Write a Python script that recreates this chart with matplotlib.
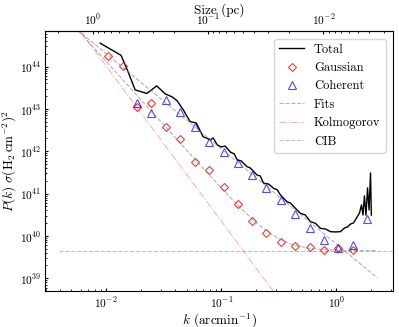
import numpy as np
import matplotlib
matplotlib.use("Agg")
import matplotlib.pyplot as plt

plt.rcParams['font.family'] = 'serif'
plt.rcParams['font.serif'] = ['cmr10']
plt.rcParams['mathtext.fontset'] = 'cm'
plt.rcParams['axes.formatter.use_mathtext'] = True
plt.rcParams['font.size'] = 9.5
plt.rcParams['xtick.labelsize'] = 8.2
plt.rcParams['ytick.labelsize'] = 8.2
plt.rcParams['legend.fontsize'] = 9
plt.rcParams['xtick.direction'] = 'in'
plt.rcParams['ytick.direction'] = 'in'
plt.rcParams['xtick.major.size'] = 2.5
plt.rcParams['ytick.major.size'] = 2.5
plt.rcParams['xtick.minor.size'] = 1.5
plt.rcParams['ytick.minor.size'] = 1.5
plt.rcParams['xtick.major.pad'] = 3
plt.rcParams['ytick.major.pad'] = 2.5

# total power spectrum
k_total = [0.00887, 0.01349, 0.01552, 0.01786, 0.0226, 0.0275, 0.0326, 0.0375, 0.0414,
           0.0468, 0.0506, 0.0537, 0.0606, 0.0656, 0.0697, 0.0755, 0.0802, 0.0851, 0.0922,
           0.100, 0.108, 0.1197, 0.1297, 0.1377, 0.149, 0.167, 0.1786, 0.204, 0.218, 0.233,
           0.256, 0.285, 0.307, 0.326, 0.372, 0.398, 0.440, 0.486, 0.537, 0.594, 0.656,
           0.726, 0.802, 0.887, 0.980, 1.083, 1.175, 1.247, 1.325, 1.406, 1.493, 1.585,
           1.65, 1.70, 1.75, 1.805, 1.862, 1.92, 1.977, 2.01]
p_total = [3.57e44, 1.84e44, 7.5e43, 2.81e43, 2.32e43, 3.50e43, 2.26e43, 1.92e43, 1.55e43,
           9.5e42, 6.5e42, 5.0e42, 4.67e42, 3.02e42, 2.18e42, 2.01e42, 1.85e42, 2.06e42, 1.41e42,
           1.26e42, 1.33e42, 9.6e41, 8.6e41, 6.2e41, 5.9e41, 4.33e41, 4.03e41, 2.75e41, 2.61e41,
           1.75e41, 1.69e41, 1.33e41, 1.22e41, 9.3e40, 6.4e40, 6.0e40, 4.5e40, 3.42e40, 3.12e40,
           2.17e40, 1.99e40, 1.51e40, 1.46e40, 1.26e40, 1.24e40, 1.26e40, 1.54e40, 1.62e40,
           1.91e40, 2.02e40, 2.65e40, 3.48e40, 5.4e40, 3.12e40, 8.8e40, 3.1e40, 1.36e41,
           4.1e40, 3.07e41, 3.1e40]

# gaussian component
k_gauss = [0.01047, 0.0139, 0.0185, 0.0246, 0.0330, 0.0440, 0.0586, 0.0787, 0.1047,
           0.1397, 0.186, 0.246, 0.330, 0.440, 0.586, 0.778, 1.04, 1.39]
p_gauss = [1.79e44, 1.04e44, 1.13e43, 1.41e43, 3.69e42, 1.92e42, 5.5e41, 3.6e41, 1.41e41,
           5.7e40, 2.22e40, 1.15e40, 7.0e39, 5.8e39, 5.5e39, 4.6e39, 5.1e39, 4.6e39]

# coherent component
k_coh = [0.0185, 0.0246, 0.0330, 0.0440, 0.0586, 0.0787, 0.1047, 0.1397, 0.186, 0.246,
         0.330, 0.440, 0.586, 0.778, 1.04, 1.39, 1.85]
p_coh = [1.41e43, 7.9e42, 1.63e43, 8.6e42, 3.66e42, 1.66e42, 9.8e41, 5.2e41, 2.75e41,
         1.38e41, 7.1e40, 3.3e40, 1.54e40, 8.2e39, 5.3e39, 6.1e39, 2.5e40]

# fit parameters
gauss_amp, gauss_idx = 1.32e38, 3.0
coh_amp, coh_idx = 6.4e39, 2.25
kolmo_amp, kolmo_idx = 4.8e36, 11.0 / 3.0
cib_level = 4.47e39
k_model_min, k_model_max = 0.0039, 2.26
size_const = 0.0077  # pc per arcmin^-1

fig = plt.figure(figsize=(3.99, 3.27), dpi=100)
ax = fig.add_axes([0.113, 0.109, 0.872, 0.796])

kk = np.logspace(np.log10(k_model_min), np.log10(k_model_max), 200)

ax.plot(k_total, p_total, color='black', lw=1.0, label='Total')
ax.plot(k_gauss, p_gauss, ls='none', marker='D', ms=4.5, mfc='none', mec='red',
        mew=0.8, alpha=0.8, label='Gaussian')
ax.plot(k_coh, p_coh, ls='none', marker='^', ms=5.5, mfc='none', mec='blue',
        mew=0.8, alpha=0.7, label='Coherent')
ax.plot(kk, gauss_amp * kk ** -gauss_idx + cib_level, color='gray', ls='--', lw=0.8,
        alpha=0.6, label='Fits')
ax.plot(kk, coh_amp * kk ** -coh_idx, color='gray', ls='--', lw=0.8, alpha=0.6)
ax.plot(kk, kolmo_amp * kk ** -kolmo_idx, color='red', ls='-.', lw=0.8, alpha=0.3,
        label='Kolmogorov')
ax.plot([k_model_min, 5.0], [cib_level, cib_level], color='green', ls='--', lw=0.8,
        alpha=0.35, label='CIB')

ax.set_xscale('log')
ax.set_yscale('log')
ax.set_xlim(2.95e-3, 3.1)
ax.set_ylim(4.9e38, 6.9e44)
ax.set_xlabel(r'$k$ (arcmin$^{-1}$)', labelpad=1)
ax.set_ylabel(r'$P(k)\ \sigma(\mathrm{H_2\,cm^{-2}})^2$', labelpad=1)

top = ax.secondary_xaxis('top', functions=(lambda k: size_const / k,
                                           lambda s: size_const / s))
top.tick_params(which='both', direction='in')
top.set_xlabel('Size (pc)', labelpad=-1)

ax.legend(loc='upper right', borderaxespad=0.6)

fig.savefig('out.png', dpi=100)
